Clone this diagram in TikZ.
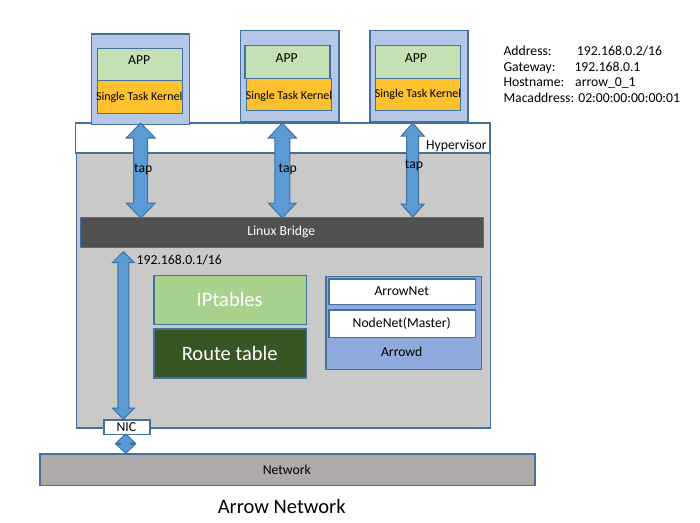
\documentclass[tikz,border=0pt]{standalone}
\usepackage{fontspec}
\setmainfont{Carlito}
\definecolor{vmfill}{HTML}{B4C7E7}
\definecolor{bord}{HTML}{41719C}
\definecolor{appfill}{HTML}{C5E0B4}
\definecolor{kernfill}{HTML}{FFC12E}
\definecolor{grayfill}{HTML}{C9C9C9}
\definecolor{bridgefill}{HTML}{505050}
\definecolor{ipfill}{HTML}{A9D18E}
\definecolor{routefill}{HTML}{375623}
\definecolor{arrowdfill}{HTML}{8FAADC}
\definecolor{netfill}{HTML}{AEAAAA}
\definecolor{arrfill}{HTML}{5B9BD5}
\tikzset{
  bx/.style={draw=bord, line width=1.4pt, inner sep=0pt, anchor=north west},
  dbl/.style={fill=arrfill, draw=bord, line width=1pt, line join=miter},
  txt/.style={inner sep=0pt, font=\fontsize{13.7}{16}\selectfont},
  ktxt/.style={inner sep=0pt, font=\fontsize{12}{14}\selectfont},
  bigtxt/.style={inner sep=0pt, font=\fontsize{20.5}{24}\selectfont},
}
\newcommand\bxw[6]{% name, x1,y1,x2,y2, fill
  \node[bx, fill=#6, minimum width={(#4-#2)*1pt}, minimum height={(#5-#3)*1pt}] (#1) at (#2,#3) {};}
\newcommand\dblarrow[6]{% xc ytop ybot sw hw hl
  \pgfmathsetmacro\da{#2+#6}\pgfmathsetmacro\db{#3-#6}%
  \filldraw[dbl] (#1,#2) -- ({#1+#5},\da) -- ({#1+#4},\da) -- ({#1+#4},\db) -- ({#1+#5},\db) -- (#1,#3) -- ({#1-#5},\db) -- ({#1-#4},\db) -- ({#1-#4},\da) -- ({#1-#5},\da) -- cycle;}
\begin{document}
\begin{tikzpicture}[x=1pt,y=-1pt]
\useasboundingbox[fill=white] (0,0) rectangle (700,522);
% hypervisor and host
\bxw{hyp}{74.7}{122.3}{489.3}{152.3}{white}
\bxw{host}{76}{152.3}{490}{427.3}{grayfill}
\node[txt, anchor=west] (hyplabel) at (426,145.5) {Hypervisor};
% VMs
\bxw{vm1}{90.7}{33.3}{188.7}{124}{vmfill}
\bxw{app1}{96.7}{48}{181.7}{80}{appfill}
\bxw{k1}{96.7}{80}{181.7}{112.7}{kernfill}
\bxw{vm2}{240}{30}{338.3}{120.7}{vmfill}
\bxw{app2}{244.3}{45}{329.3}{77.7}{appfill}
\bxw{k2}{246}{77.7}{330.7}{110}{kernfill}
\bxw{vm3}{369.3}{30}{467.3}{120.7}{vmfill}
\bxw{app3}{375}{45}{460}{77.7}{appfill}
\bxw{k3}{375}{77.7}{460}{110}{kernfill}
\node[txt] (app1t) at (139.2,60.5) {APP};
\node[ktxt] (k1t) at (139.2,97.5) {Single Task Kernel};
\node[txt] (app2t) at (286.7,58.5) {APP};
\node[ktxt] (k2t) at (289,96) {Single Task Kernel};
\node[txt] (app3t) at (416,58.5) {APP};
\node[ktxt] (k3t) at (418,94) {Single Task Kernel};
% bridge
\bxw{bridge}{80}{216.7}{482.7}{246.7}{bridgefill}
\node[txt, text=white] (bridget) at (281.3,232) {Linux Bridge};
% tap arrows
\dblarrow{140.7}{123}{218}{7}{14.5}{15}
\dblarrow{282.3}{123}{218}{7.5}{14}{15}
\dblarrow{412.7}{123}{217}{6}{11.5}{13}
\node[txt] (tap1) at (143.3,169.3) {tap};
\node[txt] (tap2) at (287.7,169.3) {tap};
\node[txt] (tap3) at (414,165) {tap};
% IPtables / route
\bxw{ipt}{153.3}{275}{306}{324}{ipfill}
\node[bigtxt, text=white] (iptt) at (229.7,299.5) {IPtables};
\bxw{route}{153.3}{328.3}{306}{377.3}{routefill}
\node[bigtxt, text=white] (routet) at (229.7,353.5) {Route table};
% Arrowd
\bxw{arrowd}{325.3}{275.7}{480.7}{369}{arrowdfill}
\bxw{anet}{328.3}{278.3}{475}{304}{white}
\node[txt] (anett) at (401.7,291.5) {ArrowNet};
\bxw{nnet}{328.3}{309.3}{475}{336.7}{white}
\node[txt] (nnett) at (401.7,323.5) {NodeNet(Master)};
\node[txt] (arrowdt) at (401.7,352) {Arrowd};
% left arrow
\dblarrow{123.3}{251.7}{419}{5.5}{11}{11}
\node[txt, anchor=west] (ipaddr) at (136.5,260) {192.168.0.1/16};
% NIC
\bxw{nic}{103.3}{419.3}{149.3}{434}{white}
\node[txt] (nict) at (126.3,427) {NIC};
\dblarrow{125.7}{434}{453.3}{5}{9.5}{9}
% network
\bxw{net}{39.3}{453.3}{534.3}{485}{netfill}
\node[txt] (nett) at (286.8,470) {Network};
\node[bigtxt] (title) at (281.7,506) {Arrow Network};
% info text
\node[txt, anchor=base west] (l1) at (503.3,55.5) {Address:};
\node[txt, anchor=base west] (v1) at (576.7,55.5) {192.168.0.2/16};
\node[txt, anchor=base west] (l2) at (503.3,71) {Gateway:};
\node[txt, anchor=base west] (v2) at (574.3,71) {192.168.0.1};
\node[txt, anchor=base west] (l3) at (503.3,86.5) {Hostname:};
\node[txt, anchor=base west] (v3) at (575,86.5) {arrow\_0\_1};
\node[txt, anchor=base west] (l4) at (503.3,102.5) {Macaddress: 02:00:00:00:00:01};
\end{tikzpicture}
\end{document}
